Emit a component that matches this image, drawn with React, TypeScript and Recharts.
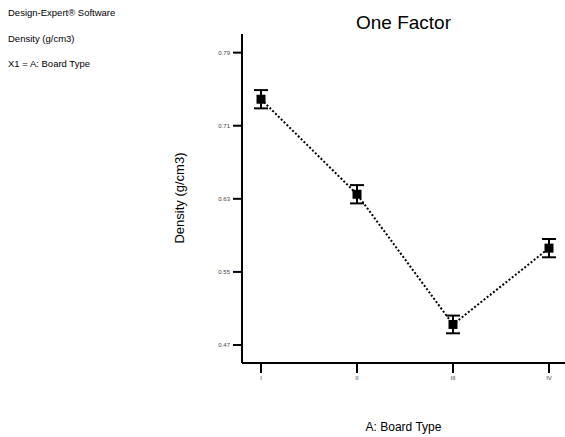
import React from 'react';
import { ComposedChart, Line, XAxis, YAxis, ErrorBar } from 'recharts';

// Board type categories and the mean density for each, with the error half-width
const boardTypes = ['I', 'II', 'III', 'IV'];
const densityMeans = [0.739, 0.635, 0.4925, 0.576];
const densityErrors = [0.01, 0.01, 0.0097, 0.01];
const yTicks = [0.47, 0.55, 0.63, 0.71, 0.79];
const infoLines = ['Design-Expert® Software', 'Density (g/cm3)', 'X1 = A: Board Type'];

const data = boardTypes.map((b, i) => ({
  x: i + 1,
  label: b,
  density: densityMeans[i],
  err: densityErrors[i],
}));

const FONT = 'Arial, "Liberation Sans", Helvetica, sans-serif';

const SquareDot = (props: any) => {
  const { cx, cy, index } = props;
  if (cx == null || cy == null) return null;
  return <rect key={`dot-${index}`} x={cx - 4.5} y={cy - 4.5} width={9} height={9} fill="#000" />;
};

const abs = (extra: React.CSSProperties): React.CSSProperties => ({
  position: 'absolute',
  whiteSpace: 'nowrap',
  color: '#000',
  ...extra,
});

export default function App() {
  return (
    <div
      style={{
        position: 'absolute',
        left: 0,
        top: 0,
        width: 565,
        height: 437,
        overflow: 'hidden',
        background: '#fff',
        fontFamily: FONT,
      }}
    >
      <ComposedChart width={565} height={437} data={data} margin={{ top: 34, right: 0, bottom: 34, left: 0 }}>
        <XAxis
          type="number"
          dataKey="x"
          domain={[0.802, 4.1667]}
          ticks={[1, 2, 3, 4]}
          allowDataOverflow
          tickFormatter={(v: number) => boardTypes[v - 1]}
          axisLine={{ stroke: '#000', strokeWidth: 2 }}
          tickLine={{ stroke: '#000', strokeWidth: 2 }}
          tickSize={10}
          tickMargin={3}
          tick={{ fontSize: 6, fill: '#444', fontFamily: FONT }}
          height={40}
        />
        <XAxis
          xAxisId="top"
          orientation="top"
          type="number"
          domain={[0.802, 4.1667]}
          allowDataOverflow
          tick={false}
          tickLine={false}
          axisLine={{ stroke: '#000', strokeWidth: 2 }}
          height={0}
        />
        <YAxis
          type="number"
          domain={[0.4503, 0.8104]}
          ticks={yTicks}
          allowDataOverflow
          tickFormatter={(v: number) => v.toFixed(2)}
          axisLine={{ stroke: '#000', strokeWidth: 2 }}
          tickLine={{ stroke: '#000', strokeWidth: 2 }}
          tickSize={9}
          tickMargin={3}
          tick={{ fontSize: 6, fill: '#444', fontFamily: FONT }}
          width={242}
        />
        <Line
          dataKey="density"
          type="linear"
          stroke="#000"
          strokeWidth={2}
          strokeDasharray="2 2"
          dot={SquareDot}
          activeDot={false}
          isAnimationActive={false}
        >
          <ErrorBar dataKey="err" width={7} stroke="#000" strokeWidth={2} direction="y" />
        </Line>
      </ComposedChart>

      {infoLines.map((t, i) => (
        <div key={t} style={abs({ left: 8, top: 12 + i * 25.5, transform: 'translateY(-50%)', fontSize: 9.5 })}>
          {t}
        </div>
      ))}
      <div style={abs({ left: 403.5, top: 23, transform: 'translate(-50%, -50%)', fontSize: 19 })}>One Factor</div>
      <div style={abs({ left: 403.5, top: 427, transform: 'translate(-50%, -50%)', fontSize: 12 })}>A: Board Type</div>
      <div
        style={abs({
          left: 179,
          top: 198,
          transform: 'translate(-50%, -50%) rotate(-90deg)',
          fontSize: 13,
        })}
      >
        Density (g/cm3)
      </div>
    </div>
  );
}
